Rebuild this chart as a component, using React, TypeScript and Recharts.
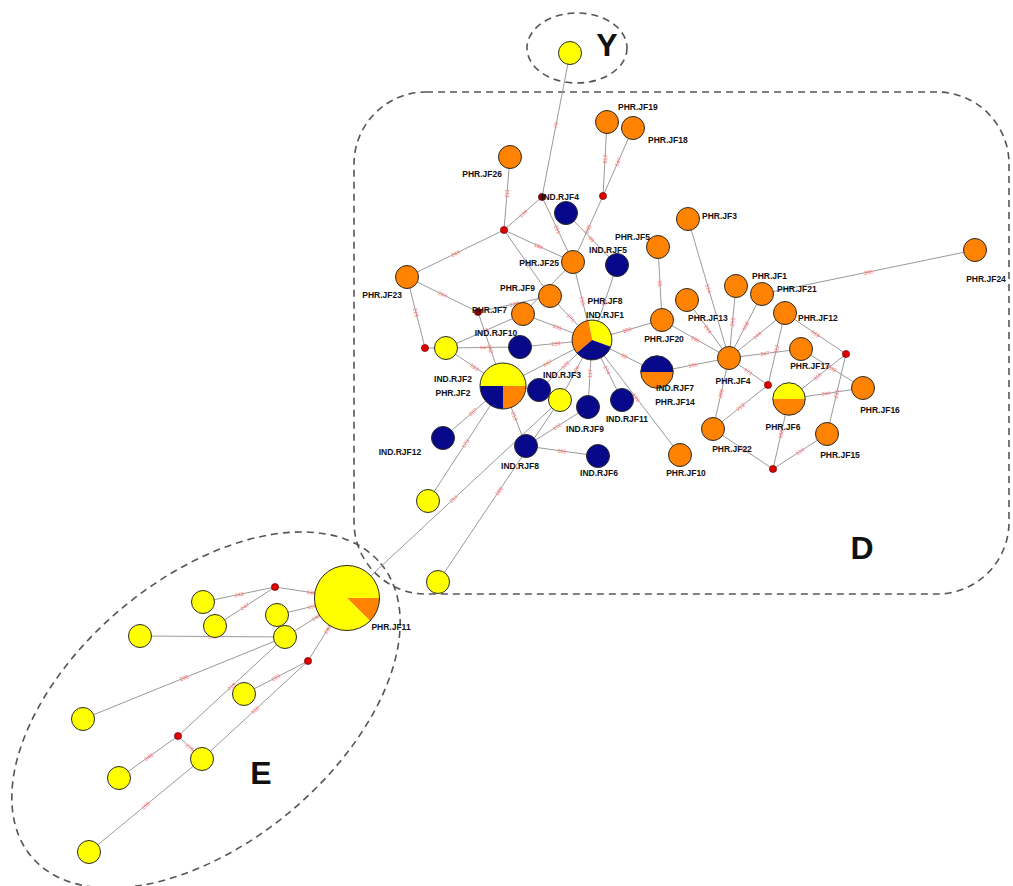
import { ScatterChart, Scatter, XAxis, YAxis, ReferenceLine, ReferenceArea } from 'recharts';

type Hap = { id: string; x: number; y: number; comp: string[]; labels?: string[] };

// haplotypes; comp has one letter per sample: y = yellow pop, o = PHR, b = IND
const groupY: Hap[] = [{ id: 'y0', x: 570, y: 53, comp: ['y'] }];

const groupD: Hap[] = [
  { id: 'j19', x: 607, y: 122, comp: ['o'], labels: ['PHR.JF19'] },
  { id: 'j18', x: 633, y: 128, comp: ['o'], labels: ['PHR.JF18'] },
  { id: 'j26', x: 510, y: 157, comp: ['o'], labels: ['PHR.JF26'] },
  { id: 'j3', x: 688, y: 219, comp: ['o'], labels: ['PHR.JF3'] },
  { id: 'j5', x: 658, y: 247, comp: ['o'], labels: ['PHR.JF5'] },
  { id: 'j25', x: 573, y: 262, comp: ['o'], labels: ['PHR.JF25'] },
  { id: 'r4', x: 566, y: 213, comp: ['b'], labels: ['IND.RJF4'] },
  { id: 'r5', x: 617, y: 265, comp: ['b'], labels: ['IND.RJF5'] },
  { id: 'j23', x: 407, y: 277, comp: ['o'], labels: ['PHR.JF23'] },
  { id: 'j9', x: 550, y: 296, comp: ['o'], labels: ['PHR.JF9'] },
  { id: 'j7', x: 523, y: 314, comp: ['o'], labels: ['PHR.JF7'] },
  { id: 'r1', x: 592, y: 340, comp: ['y', 'b', 'o'], labels: ['PHR.JF8', 'IND.RJF1'] },
  { id: 'r10', x: 520, y: 347, comp: ['b'], labels: ['IND.RJF10'] },
  { id: 'yA', x: 446, y: 348, comp: ['y'] },
  { id: 'j2', x: 503, y: 386, comp: ['y', 'y', 'o', 'b'], labels: ['IND.RJF2', 'PHR.JF2'] },
  { id: 'r3', x: 539, y: 390, comp: ['b'], labels: ['IND.RJF3'] },
  { id: 'yB', x: 560, y: 400, comp: ['y'] },
  { id: 'r9', x: 588, y: 407, comp: ['b'], labels: ['IND.RJF9'] },
  { id: 'r11', x: 622, y: 400, comp: ['b'], labels: ['IND.RJF11'] },
  { id: 'r12', x: 443, y: 438, comp: ['b'], labels: ['IND.RJF12'] },
  { id: 'r8', x: 526, y: 446, comp: ['b'], labels: ['IND.RJF8'] },
  { id: 'r6', x: 598, y: 456, comp: ['b'], labels: ['IND.RJF6'] },
  { id: 'r7', x: 657, y: 372, comp: ['b', 'o'], labels: ['IND.RJF7', 'PHR.JF14'] },
  { id: 'j20', x: 662, y: 320, comp: ['o'], labels: ['PHR.JF20'] },
  { id: 'j13', x: 687, y: 300, comp: ['o'], labels: ['PHR.JF13'] },
  { id: 'j1', x: 736, y: 286, comp: ['o'], labels: ['PHR.JF1'] },
  { id: 'j21', x: 762, y: 294, comp: ['o'], labels: ['PHR.JF21'] },
  { id: 'j12', x: 785, y: 313, comp: ['o'], labels: ['PHR.JF12'] },
  { id: 'j4', x: 729, y: 358, comp: ['o'], labels: ['PHR.JF4'] },
  { id: 'j17', x: 801, y: 349, comp: ['o'], labels: ['PHR.JF17'] },
  { id: 'j16', x: 863, y: 388, comp: ['o'], labels: ['PHR.JF16'] },
  { id: 'j6', x: 789, y: 399, comp: ['y', 'o'], labels: ['PHR.JF6'] },
  { id: 'j22', x: 713, y: 429, comp: ['o'], labels: ['PHR.JF22'] },
  { id: 'j15', x: 827, y: 434, comp: ['o'], labels: ['PHR.JF15'] },
  { id: 'j10', x: 680, y: 455, comp: ['o'], labels: ['PHR.JF10'] },
  { id: 'j24', x: 975, y: 250, comp: ['o'], labels: ['PHR.JF24'] },
  { id: 'yC', x: 428, y: 501, comp: ['y'] },
  { id: 'yD', x: 438, y: 582, comp: ['y'] },
];

const groupE: Hap[] = [
  { id: 'j11', x: 347, y: 598, comp: ['o', 'y', 'y', 'y', 'y', 'y', 'y', 'y'], labels: ['PHR.JF11'] },
  { id: 'e1', x: 203, y: 602, comp: ['y'] },
  { id: 'e2', x: 215, y: 626, comp: ['y'] },
  { id: 'e3', x: 277, y: 615, comp: ['y'] },
  { id: 'e4', x: 285, y: 637, comp: ['y'] },
  { id: 'e5', x: 140, y: 636, comp: ['y'] },
  { id: 'e6', x: 244, y: 694, comp: ['y'] },
  { id: 'e7', x: 83, y: 719, comp: ['y'] },
  { id: 'e8', x: 202, y: 759, comp: ['y'] },
  { id: 'e9', x: 119, y: 778, comp: ['y'] },
  { id: 'e10', x: 89, y: 852, comp: ['y'] },
];

// median vectors
const medians = [
  { id: 'm1', x: 542, y: 197 },
  { id: 'm2', x: 504, y: 230 },
  { id: 'm3', x: 603, y: 196 },
  { id: 'm4', x: 425, y: 348 },
  { id: 'm5', x: 768, y: 385 },
  { id: 'm6', x: 846, y: 354 },
  { id: 'm7', x: 773, y: 469 },
  { id: 'm8', x: 275, y: 587 },
  { id: 'm9', x: 308, y: 661 },
  { id: 'm10', x: 178, y: 736 },
  { id: 'm11', x: 478, y: 312 },
];

// links: from, to, mutated positions
const edges: [string, string, string][] = [
  ['y0', 'm1', '76'], ['m1', 'm2', '134'], ['m1', 'j25', '201'], ['r4', 'r5', '88'],
  ['m3', 'j19', '312'], ['m3', 'j18', '147'], ['m3', 'j25', '245'], ['m2', 'j26', '211'],
  ['m2', 'j23', '243'], ['m2', 'j25', '186'], ['m2', 'j9', '172'], ['j25', 'j7', '297'],
  ['j25', 'r1', '215'], ['j23', 'm4', '215'], ['m4', 'yA', ''], ['j23', 'm11', '207'],
  ['m11', 'j9', '238'], ['m11', 'j2', '242'], ['yA', 'j7', '119'], ['j9', 'r1', '271'],
  ['yA', 'r10', '64'], ['r10', 'r1', '228'], ['yA', 'j2', '183'], ['j7', 'r1', '131'],
  ['j5', 'j20', '95'], ['r5', 'r1', '54'], ['r1', 'j20', '160'], ['r1', 'j2', '247'],
  ['r1', 'r7', '89'], ['r1', 'j10', '193'], ['r1', 'r9', '117'], ['r1', 'r11', '174'],
  ['r1', 'yB', '126'], ['r1', 'r3', '102'], ['j2', 'r3', ''], ['j2', 'r8', '213'],
  ['j2', 'yC', '173'], ['j2', 'r12', '207'], ['r8', 'r9', '122'], ['r8', 'r6', '165'],
  ['j4', 'j3', '124'], ['j4', 'j1', '266'], ['j4', 'j21', '158'], ['j4', 'j13', '214'],
  ['j4', 'j12', '144'], ['j4', 'j17', '247'], ['j4', 'j20', '196'], ['j4', 'r7', '156'],
  ['j4', 'j22', '266'], ['j4', 'm5', '171'], ['j24', 'j21', '286'], ['j12', 'm5', '112'],
  ['m5', 'j22', '219'], ['j12', 'm6', '169'], ['m6', 'j6', '118'], ['m6', 'j15', '231'],
  ['j17', 'j16', '203'], ['j6', 'j16', '244'], ['j6', 'm7', '188'], ['m7', 'j22', '152'],
  ['m7', 'j15', '124'], ['j11', 'yB', '214'], ['yD', 'yB', '186'],
  ['e1', 'm8', '243'], ['e2', 'm8', '247'], ['m8', 'j11', '188'], ['e3', 'j11', '151'],
  ['e4', 'j11', '243'], ['e5', 'e4', '168'], ['e4', 'e7', '236'], ['e4', 'm10', '218'],
  ['m10', 'e9', '248'], ['m10', 'e8', '275'], ['j11', 'm9', '242'], ['m9', 'e6', '229'],
  ['m9', 'e8', '156'], ['e8', 'e10', '158'],
];

const letters = [
  { name: 'Y', x: 607, y: 45 },
  { name: 'D', x: 862, y: 548 },
  { name: 'E', x: 261, y: 773 },
];

const fills: Record<string, string> = { y: '#ffff00', o: '#ff8200', b: '#08088a' };
const pieStart: Record<string, number> = { r1: -10, j2: 270, j6: 270, r7: 270, j11: 90 };
// label offsets from node centre: dx, dy, anchor
const labelPos: Record<string, [number, number, string]> = {
  j19: [11, -15, 'start'], j18: [15, 12, 'start'], j26: [-8, 17, 'end'], j3: [14, -3, 'start'],
  j5: [-8, -10, 'end'], j25: [-14, 1, 'end'], r4: [-6, -16, 'middle'], r5: [-9, -15, 'middle'],
  j23: [-5, 18, 'end'], j9: [-15, -8, 'end'], j7: [-16, -4, 'end'], r1: [13, -39, 'middle'],
  r10: [-24, -14, 'middle'], j2: [-50, -7, 'middle'], r3: [23, -15, 'middle'], r9: [-3, 22, 'middle'],
  r11: [5, 19, 'middle'], r12: [-43, 14, 'middle'], r8: [-6, 20, 'middle'], r6: [1, 17, 'middle'],
  r7: [18, 16, 'middle'], j20: [2, 19, 'middle'], j13: [1, 18, 'start'], j1: [16, -10, 'start'],
  j21: [15, -5, 'start'], j12: [13, 5, 'start'], j4: [4, 23, 'middle'], j17: [9, 17, 'middle'],
  j16: [17, 22, 'middle'], j6: [-6, 28, 'middle'], j22: [19, 20, 'middle'], j15: [13, 21, 'middle'],
  j10: [6, 18, 'middle'], j24: [11, 29, 'middle'], j11: [44, 29, 'middle'],
};

const allHaps = [...groupY, ...groupD, ...groupE];
const pos: Record<string, { x: number; y: number }> = {};
[...allHaps, ...medians].forEach(n => { pos[n.id] = { x: n.x, y: n.y }; });

const edgeLabels = edges.filter(e => e[2]).map(([a, b, t]) => {
  const A = pos[a], B = pos[b];
  let ang = Math.atan2(B.y - A.y, B.x - A.x) * 180 / Math.PI;
  if (ang > 90) ang -= 180;
  if (ang < -90) ang += 180;
  return { x: (A.x + B.x) / 2, y: (A.y + B.y) / 2, t, ang };
});

const font = '"Liberation Sans", Arial, sans-serif';

const pt = (cx: number, cy: number, r: number, deg: number) => {
  const a = deg * Math.PI / 180;
  return [cx + r * Math.sin(a), cy - r * Math.cos(a)];
};

const HapNode = (p: any) => {
  const { cx, cy, payload } = p;
  const comp: string[] = payload.comp;
  const r = 11.5 * Math.sqrt(comp.length);
  const kinds = Array.from(new Set(comp));
  if (kinds.length === 1) {
    return <circle cx={cx} cy={cy} r={r} fill={fills[kinds[0]]} stroke="#2a2a2a" strokeWidth={1} />;
  }
  const step = 360 / comp.length;
  let a0 = pieStart[payload.id] ?? 0;
  const parts = kinds.map(k => {
    const n = comp.filter(c => c === k).length;
    const a1 = a0 + n * step;
    const [x0, y0] = pt(cx, cy, r, a0);
    const [x1, y1] = pt(cx, cy, r, a1);
    const d = `M${cx},${cy} L${x0},${y0} A${r},${r} 0 ${n * step > 180 ? 1 : 0} 1 ${x1},${y1} Z`;
    a0 = a1;
    return <path key={k} d={d} fill={fills[k]} stroke="none" />;
  });
  return (
    <g>
      {parts}
      <circle cx={cx} cy={cy} r={r} fill="none" stroke="#2a2a2a" strokeWidth={1} />
    </g>
  );
};

const HapLabel = (p: any) => {
  const { cx, cy, payload } = p;
  const lp = labelPos[payload.id];
  if (!payload.labels || !lp) return <g />;
  return (
    <g>
      {payload.labels.map((s: string, i: number) => (
        <text key={s} x={cx + lp[0]} y={cy + lp[1] + i * 14} textAnchor={lp[2] as any} dominantBaseline="central"
          fontFamily={font} fontWeight="bold" fontSize={8.5} fill="#111">{s}</text>
      ))}
    </g>
  );
};

const Median = (p: any) => (
  <circle cx={p.cx} cy={p.cy} r={3.6} fill={p.payload.id === 'm1' || p.payload.id === 'm11' ? '#8a0000' : '#e00000'}
    stroke="#5a0000" strokeWidth={0.6} />
);

const EdgeLabel = (p: any) => (
  <text x={p.cx} y={p.cy} textAnchor="middle" dominantBaseline="central" fontFamily={font} fontSize={5.5}
    fill="#ff6a6a" transform={`rotate(${p.payload.ang} ${p.cx} ${p.cy})`}>{p.payload.t}</text>
);

const Letter = (p: any) => (
  <text x={p.cx} y={p.cy} textAnchor="middle" dominantBaseline="central" fontFamily={font} fontWeight="bold"
    fontSize={32} fill="#111">{p.payload.name}</text>
);

const ellipseShape = (tilt: number) => (p: any) => {
  const cx = p.x + p.width / 2, cy = p.y + p.height / 2;
  return <ellipse cx={cx} cy={cy} rx={p.width / 2} ry={p.height / 2} transform={`rotate(${tilt} ${cx} ${cy})`}
    fill="none" stroke="#555" strokeWidth={1.6} strokeDasharray="7 5" />;
};

const roundRect = (p: any) => (
  <rect x={p.x} y={p.y} width={p.width} height={p.height} rx={72} ry={72}
    fill="none" stroke="#555" strokeWidth={1.6} strokeDasharray="7 5" />
);

export default function App() {
  return (
    <div style={{ position: 'absolute', left: 0, top: 0, width: 1013, height: 886, background: '#fff' }}>
      <ScatterChart width={1013} height={886} margin={{ top: 0, right: 0, bottom: 0, left: 0 }}>
        <XAxis type="number" dataKey="x" domain={[0, 1013]} hide allowDataOverflow />
        <YAxis type="number" dataKey="y" domain={[0, 886]} reversed hide allowDataOverflow />
        <ReferenceArea x1={527} x2={627} y1={13} y2={83} ifOverflow="visible" shape={ellipseShape(0)} />
        <ReferenceArea x1={206 - 228} x2={206 + 228} y1={710 - 132} y2={710 + 132} ifOverflow="visible" shape={ellipseShape(-40)} />
        <ReferenceArea x1={354} x2={1009} y1={92} y2={594} ifOverflow="visible" shape={roundRect} />
        {edges.map(([a, b]) => (
          <ReferenceLine key={a + '-' + b} segment={[pos[a], pos[b]]} stroke="#9a9a9a" strokeWidth={1} ifOverflow="visible" />
        ))}
        <Scatter data={edgeLabels} shape={EdgeLabel} isAnimationActive={false} />
        <Scatter data={medians} shape={Median} isAnimationActive={false} />
        <Scatter data={allHaps} shape={HapNode} isAnimationActive={false} />
        <Scatter data={allHaps} shape={HapLabel} isAnimationActive={false} />
        <Scatter data={letters} shape={Letter} isAnimationActive={false} />
      </ScatterChart>
    </div>
  );
}
